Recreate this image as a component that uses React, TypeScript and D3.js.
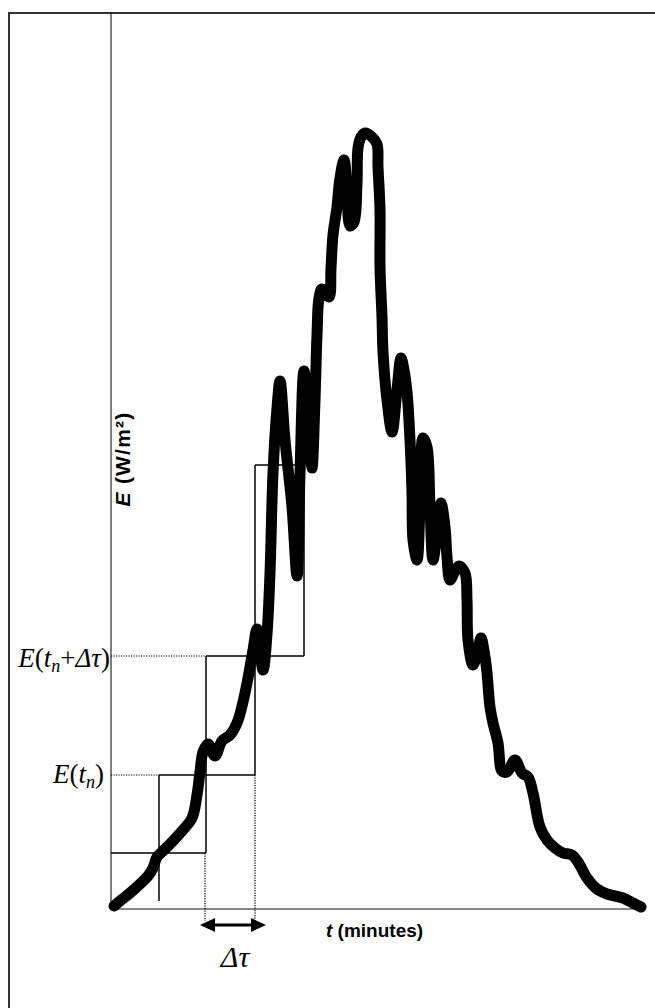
import React from "react";
import * as d3 from "d3";

// Irradiance curve samples: time (minutes) and irradiance (W/m²)
const minutes = [
  3, 9, 19, 29, 37, 42, 46, 52, 62, 71, 81, 86, 89, 92, 97, 104, 111, 119, 126, 132,
  137, 142, 146, 152, 156, 159, 162, 166, 169, 174, 181, 186, 189, 193, 198, 201, 204, 206, 208, 211,
  218, 220, 222, 226, 229, 233, 236, 239, 243, 246, 247, 250, 254, 261, 266, 267, 269, 269, 271, 272,
  276, 281, 286, 290, 293, 296, 299, 301, 302, 306, 309, 312, 316, 319, 322, 327, 330, 334, 336, 339,
  344, 348, 354, 356, 357, 362, 367, 370, 374, 376, 379, 382, 387, 391, 396, 404, 411, 417, 422, 429,
  436, 444, 452, 461, 467, 476, 486, 496, 512, 522, 530,
];
const irradiance = [
  3, 8, 16, 25, 33, 41, 52, 58, 68, 78, 91, 114, 137, 157, 165, 153, 168, 174, 186, 207,
  231, 259, 280, 239, 275, 336, 436, 501, 528, 469, 402, 333, 436, 538, 489, 441, 509, 574, 611, 620,
  612, 641, 674, 702, 731, 749, 722, 683, 687, 726, 761, 772, 776, 772, 765, 742, 699, 642, 592, 557,
  509, 477, 519, 551, 539, 517, 469, 417, 369, 349, 402, 471, 462, 402, 349, 385, 406, 382, 352, 329,
  338, 343, 336, 309, 269, 244, 259, 271, 252, 236, 202, 186, 166, 138, 137, 149, 136, 132, 116, 82,
  69, 61, 56, 54, 47, 31, 20, 15, 11, 6, 2,
];

// Step approximation: interval boundaries (minutes) and held irradiance levels
const stepBounds = [0, 48, 95, 144, 193];
const stepLevels = [56, 134, 253, 444];
const stepFloor = 8;

const W = 655;
const H = 1008;

export default function App() {
  const x = d3.scaleLinear().domain([0, 532]).range([111, 643]);
  const y = d3.scaleLinear().domain([0, 896]).range([909, 13]);
  const axisY = y(0);

  const pts: [number, number][] = minutes.map((m, i) => [m, irradiance[i]]);
  const line = d3
    .line<[number, number]>()
    .x((d) => x(d[0]))
    .y((d) => y(d[1]))
    .curve(d3.curveCatmullRom.alpha(0.5));

  // horizontal step segments: level i spans bound i .. bound i+2
  const hSegs = stepLevels.map((lv, i) => ({
    x1: x(stepBounds[i]),
    x2: x(stepBounds[Math.min(i + 2, stepBounds.length - 1)]),
    y: y(lv),
  }));
  // vertical step segments at bound k, from upper level down to level k-2
  const vSegs = [1, 2, 3, 4].map((k) => {
    const top = stepLevels[Math.min(k, stepLevels.length - 1)];
    const bottom = k - 2 >= 0 ? stepLevels[k - 2] : stepFloor;
    return { x: x(stepBounds[k]), y1: y(top), y2: y(bottom) };
  });

  const serif = "'Liberation Serif', 'Times New Roman', serif";
  const sans = "'Liberation Sans', Arial, sans-serif";

  const aL = x(stepBounds[2]) - 6;
  const aR = x(stepBounds[3]) + 11;
  const aY = axisY + 16;

  return (
    <svg
      width={W}
      height={H}
      style={{ position: "absolute", left: 0, top: 0, display: "block", background: "#fff" }}
    >
      {/* outer frame */}
      <line x1={8} x2={W} y1={13} y2={13} stroke="#333" strokeWidth={2} />
      <line x1={9} x2={9} y1={12} y2={H} stroke="#333" strokeWidth={2} />

      {/* axes */}
      <line x1={x(0)} x2={x(0)} y1={13} y2={axisY} stroke="#000" strokeWidth={1} />
      <line x1={x(0)} x2={x(532)} y1={axisY} y2={axisY} stroke="#888" strokeWidth={2} />

      {/* step rectangles */}
      {hSegs.map((s, i) => (
        <line key={"h" + i} x1={s.x1} x2={s.x2} y1={s.y} y2={s.y} stroke="#000" strokeWidth={1.5} />
      ))}
      {vSegs.map((s, i) => (
        <line key={"v" + i} x1={s.x} x2={s.x} y1={s.y1} y2={s.y2} stroke="#000" strokeWidth={1.5} />
      ))}

      {/* dotted guides */}
      <line x1={x(0)} x2={x(stepBounds[2])} y1={y(stepLevels[2])} y2={y(stepLevels[2])}
        stroke="#000" strokeWidth={1.2} strokeDasharray="1.2 1.3" />
      <line x1={x(0)} x2={x(stepBounds[1])} y1={y(stepLevels[1])} y2={y(stepLevels[1])}
        stroke="#000" strokeWidth={1.2} strokeDasharray="1.2 1.3" />
      <line x1={x(stepBounds[2]) - 1} x2={x(stepBounds[2]) - 1} y1={y(stepLevels[0])} y2={axisY + 12}
        stroke="#000" strokeWidth={1.2} strokeDasharray="1.2 1.3" />
      <line x1={x(stepBounds[3])} x2={x(stepBounds[3])} y1={y(stepLevels[1])} y2={axisY + 12}
        stroke="#000" strokeWidth={1.2} strokeDasharray="1.2 1.3" />

      {/* irradiance curve */}
      <path d={line(pts) || ""} fill="none" stroke="#000" strokeWidth={11}
        strokeLinejoin="round" strokeLinecap="round" />

      {/* double arrow */}
      <line x1={aL + 14} x2={aR - 14} y1={aY} y2={aY} stroke="#000" strokeWidth={3} />
      <path d={`M${aL},${aY} L${aL + 15},${aY - 7} L${aL + 15},${aY + 7} Z`} fill="#000" />
      <path d={`M${aR},${aY} L${aR - 15},${aY - 7} L${aR - 15},${aY + 7} Z`} fill="#000" />
      <text x={(aL + aR) / 2 + 2} y={axisY + 58} textAnchor="middle" fontFamily={serif}
        fontSize={30} fontStyle="italic">Δτ</text>

      {/* left value labels */}
      <text x={110} y={y(stepLevels[2]) + 11} textAnchor="end" fontFamily={serif} fontSize={27}>
        <tspan fontStyle="italic">E</tspan>(<tspan fontStyle="italic">t</tspan>
        <tspan fontStyle="italic" fontSize={18} dy={5}>n</tspan>
        <tspan dy={-5}>+</tspan><tspan fontStyle="italic">Δτ</tspan>)
      </text>
      <text x={104} y={y(stepLevels[1]) + 8} textAnchor="end" fontFamily={serif} fontSize={27}>
        <tspan fontStyle="italic">E</tspan>(<tspan fontStyle="italic">t</tspan>
        <tspan fontStyle="italic" fontSize={18} dy={5}>n</tspan>
        <tspan dy={-5}>)</tspan>
      </text>

      {/* axis titles */}
      <text x={326} y={axisY + 28} fontFamily={sans} fontSize={19} fontWeight="bold">
        <tspan fontStyle="italic">t</tspan> (minutes)
      </text>
      <text transform={`translate(130, 459) rotate(-90)`} textAnchor="middle" fontFamily={sans}
        fontSize={21} fontWeight="bold" letterSpacing={1.2}>
        <tspan fontStyle="italic">E</tspan> (W/m²)
      </text>
    </svg>
  );
}
